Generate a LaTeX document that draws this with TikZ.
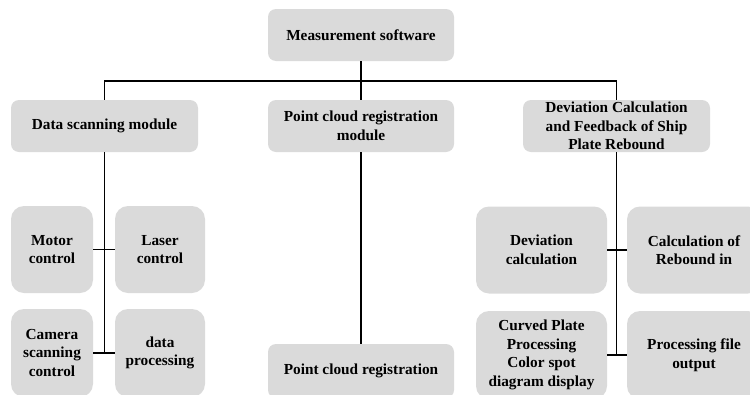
\documentclass[tikz,border=0pt]{standalone}
\usepackage{fontspec}
\setmainfont{Liberation Serif}
\usepackage{xcolor}
\usepackage{tikz}
\usetikzlibrary{positioning,calc}

\definecolor{boxgray}{RGB}{218,218,218}

\tikzset{
    modbox/.style={fill=boxgray, rounded corners=8pt, align=center, inner sep=0pt,
        font=\bfseries\fontsize{15.3}{18.5}\selectfont},
    subbox/.style={modbox, rounded corners=13pt},
    link/.style={black, line width=1.6pt}
}

\begin{document}
\begin{tikzpicture}[x=1pt, y=-1pt]
    % Frame of the picture
    \useasboundingbox (0,0) rectangle (750,394);
    \clip (0,0) rectangle (750,394);

    % Top level
    \node[modbox, minimum width=186pt, minimum height=52pt] (software) at (361,35) {Measurement software};
    \coordinate (bus) at (361,81);

    % Modules
    \node[modbox, minimum width=187pt, minimum height=52pt] (scan) at (104.5,126) {Data scanning module};
    \node[modbox, minimum width=186pt, minimum height=52pt] (pcmod) at (361,126) {Point cloud registration\\module};
    \node[modbox, minimum width=187pt, minimum height=52pt] (devmod) at (616.5,126) {Deviation Calculation\\and Feedback of Ship\\Plate Rebound};

    % Data scanning sub-functions
    \node[subbox, minimum width=82pt, minimum height=87pt] (motor) at (52,249.5) {Motor\\control};
    \node[subbox, minimum width=90pt, minimum height=87pt] (laser) at (160,249.5) {Laser\\control};
    \node[subbox, minimum width=82pt, minimum height=88pt] (camera) at (52,353) {Camera\\scanning\\control};
    \node[subbox, minimum width=90pt, minimum height=88pt] (dataproc) at (160,353) {data\\processing};

    % Registration
    \node[modbox, minimum width=186pt, minimum height=54pt] (pcreg) at (361,371) {Point cloud registration};

    % Deviation sub-functions
    \node[subbox, minimum width=131pt, minimum height=87pt] (devcalc) at (541.5,250) {Deviation\\calculation};
    \node[subbox, minimum width=134pt, minimum height=87pt] (rebound) at (694,250) {Calculation of\\Rebound in};
    \node[subbox, minimum width=131pt, minimum height=88pt] (curved) at (541.5,355) {Curved Plate\\Processing\\Color spot\\diagram display};
    \node[subbox, minimum width=134pt, minimum height=88pt] (fileout) at (694,355) {Processing file\\output};

    % Tree connectors
    \draw[link] (software.south) -- (pcmod.north);
    \draw[link] (scan.north) |- (bus) -| (devmod.north);

    \draw[link] (scan.south) -- (scan.south |- camera.east);
    \draw[link] (motor.east) -- (laser.west);
    \draw[link] (camera.east) -- (dataproc.west);

    \draw[link] (pcmod.south) -- (pcreg.north);

    \draw[link] (devmod.south) -- (devmod.south |- curved.east);
    \draw[link] (devcalc.east) -- (rebound.west);
    \draw[link] (curved.east) -- (fileout.west);
\end{tikzpicture}
\end{document}
